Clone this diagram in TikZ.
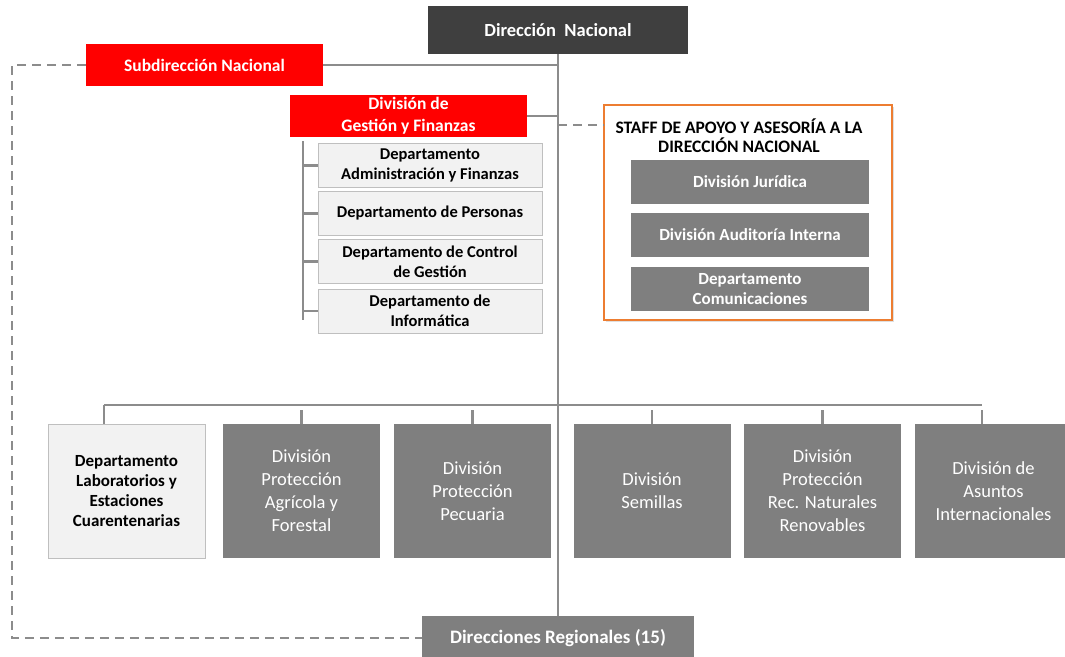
\documentclass[tikz,border=0pt]{standalone}
\usepackage{fontspec}
\setmainfont{Carlito}
\usepackage{tikz}
\usetikzlibrary{positioning, shadows}
\definecolor{darkbox}{HTML}{3F3F3F}
\definecolor{unitgray}{HTML}{7F7F7F}
\definecolor{linegray}{HTML}{8C8C8C}
\definecolor{staffline}{HTML}{ED7D31}
\definecolor{deptfill}{HTML}{F2F2F2}
\definecolor{deptline}{HTML}{BFBFBF}

\begin{document}
\begin{tikzpicture}[x=1pt,y=-1pt,font=\bfseries\fontsize{17}{20}\selectfont,
        box/.style={rectangle,inner sep=2pt,align=center},
        topbox/.style={box,fill=darkbox,text=white,minimum width=260,minimum height=48,font=\bfseries\fontsize{18.5}{20}\selectfont},
        redbox/.style={box,fill=red,text=white,minimum width=237,font=\bfseries\fontsize{17.5}{22}\selectfont},
        deptbox/.style={box,fill=deptfill,draw=deptline,line width=1pt,minimum width=224,minimum height=44,font=\bfseries\fontsize{16.5}{20}\selectfont},
        staffunit/.style={box,fill=unitgray,text=white,minimum width=238,minimum height=44,font=\bfseries\fontsize{17}{20}\selectfont},
        unit/.style={box,fill=unitgray,text=white,minimum width=157,minimum height=134,font=\fontsize{18.5}{23}\selectfont},
        labunit/.style={unit,fill=deptfill,draw=deptline,line width=1pt,text=black,font=\bfseries\fontsize{17}{20}\selectfont},
        link/.style={draw=linegray,line width=2.5pt},
        dashlink/.style={draw=linegray,line width=2pt,dash pattern=on 9pt off 6pt}]

    \useasboundingbox (0,0) rectangle (1065,656);

    % direccion y subdireccion
    \node[topbox] (dn) at (558,30) {Dirección\ \ Nacional};
    \node[redbox,minimum height=42] (sdn) at (204.5,65) {Subdirección Nacional};
    \node[redbox,minimum height=40] (dgf) at (408.5,116) {División de\\Gestión y Finanzas};

    % departamentos de gestion
    \node[deptbox] (daf)  at (430,165.5) {Departamento\\Administración y Finanzas};
    \node[deptbox] (dpe)  at (430,213.5) {Departamento de Personas};
    \node[deptbox] (dcg)  at (430,261.5) {Departamento de Control\\de Gestión};
    \node[deptbox] (dinf) at (430,311)   {Departamento de\\Informática};

    % staff
    \node[box,minimum width=288,minimum height=215,draw=staffline,line width=1.5pt,fill=white,
          drop shadow={shadow xshift=2pt,shadow yshift=-2pt,fill=black!25}] (staff) at (748,212.5) {};
    \node[box,font=\bfseries\fontsize{17.5}{19}\selectfont] (stafft) at (739,135.5)
          {STAFF DE APOYO Y ASESORÍA A LA\\DIRECCIÓN NACIONAL};
    \node[staffunit] (djur) at (750,182) {División Jurídica};
    \node[staffunit] (daud) at (750,235) {División Auditoría Interna};
    \node[staffunit] (dcom) at (750,289) {Departamento\\Comunicaciones};

    % divisiones
    \node[labunit] (dlab) at (126.5,491) {Departamento\\Laboratorios y\\Estaciones\\Cuarentenarias};
    \node[unit] (dpaf) at (301.5,491) {División\\Protección\\Agrícola y\\Forestal};
    \node[unit] (dpp)  at (472.5,491) {División\\Protección\\Pecuaria};
    \node[unit] (dsem) at (652,491)   {División\\Semillas};
    \node[unit] (drn)  at (822.5,491) {División\\Protección\\Rec. Naturales\\Renovables};
    \node[unit] (dai)  at (993.5,491) {División de\\Asuntos\\Internacionales};

    \node[box,fill=unitgray,text=white,minimum width=272,minimum height=44,font=\bfseries\fontsize{19}{20}\selectfont] (dreg) at (558,638) {Direcciones Regionales (15)};

    % lineas
    \draw[link] (dn.south) -- (dreg.north);
    \draw[link] (sdn.east) -- (sdn.east -| dn.south);
    \draw[link] (dgf.east) -- (dgf.east -| dn.south);
    \path (staff.north west) ++(0,21) coordinate (staffjoin);
    \draw[dashlink] (staffjoin -| dn.south) -- (staffjoin);
    \draw[dashlink] (sdn.west) -- ++(-74,0) |- (dreg.west);

    \coordinate (brtop) at (303,141);
    \coordinate (brbot) at (303,320);
    \draw[link] (brtop) -- (brbot);
    \foreach \d in {daf,dpe,dcg,dinf}
        \draw[link] (\d.west -| brtop) -- (\d.west);

    \coordinate (busl) at (104,405);
    \coordinate (busr) at (982,405);
    \draw[link] (busl) -- (busr);
    \draw[link] (busl) -- (busl |- dlab.north);
    \foreach \u in {dpaf,dpp,dsem,drn}
        \draw[link,shorten <=5pt] (\u.north |- busl) -- (\u.north);
    \draw[link,shorten <=5pt] (busr) -- (busr |- dai.north);
\end{tikzpicture}
\end{document}
